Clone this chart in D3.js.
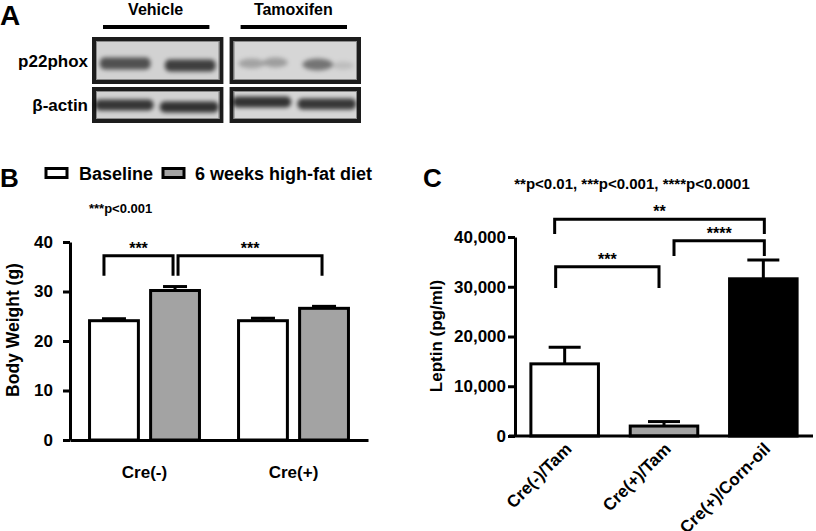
<!DOCTYPE html>
<html><head><meta charset="utf-8">
<script src="https://cdn.jsdelivr.net/npm/d3@7"></script>
<style>
body{margin:0;background:#fff}
svg{display:block}
text{font-family:"Liberation Sans",Arial,Helvetica,sans-serif;font-weight:bold;fill:#000}
</style>
</head><body><svg id="c" width="816" height="531"></svg>
<script>
// ---------- Panel A: western blot ----------
const blotGroups = ["Vehicle", "Tamoxifen"];
const blotRows = ["p22phox", "β-actin"];
const blotLanes = ["Vehicle-1", "Vehicle-2", "Tamoxifen-1", "Tamoxifen-2"];
const p22Bands = [0.62, 0.70, 0.24, 0.46];
const actinBands = [0.74, 0.76, 0.76, 0.74];

// ---------- Panel B: body weight ----------
const bwGroups = ["Cre(-)", "Cre(+)"];
const bwSeries = ["Baseline", "6 weeks high-fat diet"];
const bwBaseline = [24.1, 24.1];
const bwBaselineErr = [0.4, 0.5];
const bwHFD = [30.2, 26.6];
const bwHFDErr = [0.8, 0.4];
const bwTicks = [0, 10, 20, 30, 40];
const bwNote = "***p<0.001";

// ---------- Panel C: leptin ----------
const lepGroups = ["Cre(-)/Tam", "Cre(+)/Tam", "Cre(+)/Corn-oil"];
const lepMean = [14500, 2000, 31600];
const lepErr = [3350, 900, 3800];
const lepTicks = [0, 10000, 20000, 30000, 40000];
const lepNote = "**p<0.01, ***p<0.001, ****p<0.0001";

const svg = d3.select("#c");
const LW = 3;

// ================= Panel A =================
svg.append("text").attr("x", 0).attr("y", 25).attr("font-size", 28).text("A");
const defs = svg.append("defs");
defs.append("filter").attr("id", "blur").attr("x", "-20%").attr("y", "-80%").attr("width", "140%").attr("height", "260%")
  .append("feGaussianBlur").attr("stdDeviation", 2.2);

const xBlot = d3.scaleBand().domain(blotGroups).range([92, 361]).paddingInner(0.045);
const yBlotH = {"p22phox": [37, 84], "β-actin": [87, 123]};

blotGroups.forEach(g => {
  const gx = xBlot(g), gw = xBlot.bandwidth();
  svg.append("text").attr("x", gx + gw / 2 - 2).attr("y", 15).attr("text-anchor", "middle")
    .attr("font-size", 16).style("font-family", "'Liberation Sans Narrow','Arial Narrow',Arial,sans-serif")
    .text(g);
  svg.append("line").attr("x1", gx + 11).attr("x2", gx + gw - 14).attr("y1", 27).attr("y2", 27)
    .attr("stroke", "#000").attr("stroke-width", 4);
  blotRows.forEach(r => {
    const [y0, y1] = yBlotH[r];
    svg.append("rect").attr("x", gx + 2).attr("y", y0 + 2).attr("width", gw - 4).attr("height", y1 - y0 - 4)
      .attr("fill", g === "Vehicle" ? "#d2d2d2" : "#d6d6d6").attr("stroke", "#1c1c1c").attr("stroke-width", 4);
    svg.append("rect").attr("x", gx + 4.5).attr("y", y0 + 4.5).attr("width", gw - 9).attr("height", y1 - y0 - 9)
      .attr("fill", "none").attr("stroke", "#8a8a8a").attr("stroke-width", 1);
  });
});
blotRows.forEach(r => {
  const [y0, y1] = yBlotH[r];
  svg.append("text").attr("x", 88).attr("y", (y0 + y1) / 2 + 6).attr("text-anchor", "end")
    .attr("font-size", 17).text(r);
});

const laneInner = d3.scaleBand().domain([0, 1]).range([0, xBlot.bandwidth()]).paddingInner(0.22).paddingOuter(0.12);
const bandG = svg.append("g").attr("filter", "url(#blur)");
blotLanes.forEach((lane, i) => {
  const g = blotGroups[Math.floor(i / 2)];
  const li = i % 2;
  const lx = xBlot(g) + laneInner(li);
  const lw = laneInner.bandwidth();
  const [p0, p1] = yBlotH["p22phox"];
  const pc = (p0 + p1) / 2 + 3 + li * 2;
  if (g === "Tamoxifen" && li === 0) {
    bandG.append("ellipse").attr("cx", lx + lw * 0.28).attr("cy", pc).attr("rx", lw * 0.26).attr("ry", 5)
      .attr("fill", "#000").attr("opacity", p22Bands[i]);
    bandG.append("ellipse").attr("cx", lx + lw * 0.75).attr("cy", pc - 1).attr("rx", lw * 0.24).attr("ry", 5)
      .attr("fill", "#000").attr("opacity", p22Bands[i] * 1.1);
  } else if (g === "Tamoxifen") {
    bandG.append("ellipse").attr("cx", lx + lw * 0.3).attr("cy", pc - 1).attr("rx", lw * 0.3).attr("ry", 6)
      .attr("fill", "#000").attr("opacity", p22Bands[i]);
    bandG.append("ellipse").attr("cx", lx + lw * 0.8).attr("cy", pc).attr("rx", lw * 0.22).attr("ry", 4)
      .attr("fill", "#000").attr("opacity", p22Bands[i] * 0.25);
  } else {
    bandG.append("rect").attr("x", lx).attr("y", pc - 6).attr("width", lw).attr("height", 12).attr("rx", 5)
      .attr("fill", "#000").attr("opacity", p22Bands[i]);
  }
  const [a0, a1] = yBlotH["β-actin"];
  const ac = (a0 + a1) / 2 + (g === "Vehicle" ? 0 : -3) + li * 2;
  bandG.append("rect").attr("x", lx - 5).attr("y", ac - 5.5).attr("width", lw + 8).attr("height", 11).attr("rx", 5)
    .attr("fill", "#000").attr("opacity", actinBands[i]);
});

// ================= Panel B =================
svg.append("text").attr("x", 0).attr("y", 187).attr("font-size", 26).text("B");
const yB = d3.scaleLinear().domain([0, 40]).range([440, 242]);
const xB = d3.scaleBand().domain(bwGroups).range([70, 368]);
const xBi = d3.scaleBand().domain(bwSeries).range([0, xB.bandwidth()]).paddingInner(0.2).paddingOuter(0.32);
const fillB = d3.scaleOrdinal().domain(bwSeries).range(["#ffffff", "#a3a3a3"]);
const bwData = [];
bwGroups.forEach((g, i) => {
  bwData.push({g, s: bwSeries[0], v: bwBaseline[i], e: bwBaselineErr[i]});
  bwData.push({g, s: bwSeries[1], v: bwHFD[i], e: bwHFDErr[i]});
});

const legB = svg.append("g");
const legX = [46, 163], legTX = [79, 195];
bwSeries.forEach((s, i) => {
  legB.append("rect").attr("x", legX[i]).attr("y", 168.5).attr("width", 21).attr("height", 9)
    .attr("fill", fillB(s)).attr("stroke", "#000").attr("stroke-width", LW);
  legB.append("text").attr("x", legTX[i]).attr("y", 180).attr("font-size", 18).text(s);
});
svg.append("text").attr("x", 89).attr("y", 213).attr("font-size", 13).text(bwNote);

const gB = svg.append("g");
bwData.forEach(d => {
  const x = xB(d.g) + xBi(d.s), w = xBi.bandwidth(), cx = x + w / 2;
  gB.append("line").attr("x1", cx).attr("x2", cx).attr("y1", yB(d.v)).attr("y2", yB(d.v + d.e))
    .attr("stroke", "#000").attr("stroke-width", LW);
  gB.append("line").attr("x1", cx - 12).attr("x2", cx + 12).attr("y1", yB(d.v + d.e)).attr("y2", yB(d.v + d.e))
    .attr("stroke", "#000").attr("stroke-width", LW);
  gB.append("rect").attr("x", x).attr("y", yB(d.v)).attr("width", w).attr("height", yB(0) - yB(d.v))
    .attr("fill", fillB(d.s)).attr("stroke", "#000").attr("stroke-width", LW);
});
svg.append("g").attr("transform", "translate(70,0)")
  .call(d3.axisLeft(yB).tickValues(bwTicks).tickSize(7).tickSizeOuter(0).tickPadding(10));
svg.append("g").attr("transform", "translate(0,440)")
  .call(d3.axisBottom(xB).tickSize(0).tickPadding(26));
svg.selectAll(".domain, .tick line").attr("stroke", "#000").attr("stroke-width", LW);
svg.selectAll(".tick text").attr("font-size", 17).attr("fill", "#000")
  .style("font-family", "'Liberation Sans',Arial,sans-serif").style("font-weight", "bold");
svg.append("text").attr("transform", "translate(19,330) rotate(-90)").attr("text-anchor", "middle")
  .attr("font-size", 17.5).text("Body Weight (g)");

const bwBrackets = [
  {a: ["Cre(-)", bwSeries[0]], b: ["Cre(-)", bwSeries[1]], oa: -10, ob: -2, top: 37.2, leg: 33.2, label: "***"},
  {a: ["Cre(-)", bwSeries[1]], b: ["Cre(+)", bwSeries[1]], oa: 3, ob: -2, top: 37.2, leg: 33.2, label: "***"}
];
function bracket(ax, bx, yTop, yLeg, label, labelDy) {
  svg.append("path").attr("d", `M${ax},${yLeg}V${yTop}H${bx}V${yLeg}`)
    .attr("fill", "none").attr("stroke", "#000").attr("stroke-width", LW);
  svg.append("text").attr("x", (ax + bx) / 2).attr("y", yTop - labelDy).attr("text-anchor", "middle")
    .attr("font-size", 16).text(label);
}
bwBrackets.forEach(b => {
  const ax = xB(b.a[0]) + xBi(b.a[1]) + xBi.bandwidth() / 2 + b.oa;
  const bx = xB(b.b[0]) + xBi(b.b[1]) + xBi.bandwidth() / 2 + b.ob;
  bracket(ax, bx, yB(b.top), yB(b.leg), b.label, 2);
});

// ================= Panel C =================
svg.append("text").attr("x", 423).attr("y", 187).attr("font-size", 26).text("C");
svg.append("text").attr("x", 632).attr("y", 189).attr("text-anchor", "middle").attr("font-size", 15).text(lepNote);
const yC = d3.scaleLinear().domain([0, 40000]).range([436, 237]);
const xC = d3.scaleBand().domain(lepGroups).range([515, 813]).paddingInner(0.32).paddingOuter(0.16);
const fillC = d3.scaleOrdinal().domain(lepGroups).range(["#ffffff", "#a3a3a3", "#000000"]);
const gC = svg.append("g");
lepGroups.forEach((g, i) => {
  const x = xC(g), w = xC.bandwidth(), cx = x + w / 2, v = lepMean[i], e = lepErr[i];
  gC.append("line").attr("x1", cx).attr("x2", cx).attr("y1", yC(v)).attr("y2", yC(v + e))
    .attr("stroke", "#000").attr("stroke-width", LW);
  gC.append("line").attr("x1", cx - 16).attr("x2", cx + 16).attr("y1", yC(v + e)).attr("y2", yC(v + e))
    .attr("stroke", "#000").attr("stroke-width", LW);
  gC.append("rect").attr("x", x).attr("y", yC(v)).attr("width", w).attr("height", yC(0) - yC(v))
    .attr("fill", fillC(g)).attr("stroke", "#000").attr("stroke-width", LW);
});
const axC = svg.append("g").attr("transform", "translate(515,0)")
  .call(d3.axisLeft(yC).tickValues(lepTicks).tickSize(7).tickSizeOuter(0).tickPadding(2).tickFormat(d3.format(",")));
const axCx = svg.append("g").attr("transform", "translate(0,436)")
  .call(d3.axisBottom(xC).tickSize(0).tickFormat(""));
axCx.select(".domain").attr("d", `M509,0H813`);
[axC, axCx].forEach(a => {
  a.selectAll(".domain, .tick line").attr("stroke", "#000").attr("stroke-width", LW);
  a.selectAll(".tick text").attr("font-size", 17).attr("fill", "#000")
    .style("font-family", "'Liberation Sans',Arial,sans-serif").style("font-weight", "bold");
});
lepGroups.forEach(g => {
  const cx = xC(g) + xC.bandwidth() / 2;
  svg.append("text").attr("transform", `translate(${cx + 8},450) rotate(-45)`).attr("text-anchor", "end")
    .attr("font-size", 17).text(g);
});
svg.append("text").attr("transform", "translate(442,336) rotate(-90)").attr("text-anchor", "middle")
  .attr("font-size", 17).text("Leptin (pg/ml)");

const lepBrackets = [
  {a: 0, b: 2, oa: -10, ob: 1, top: 43560, leg: 40600, label: "**"},
  {a: 1, b: 2, oa: 10, ob: 1, top: 39260, leg: 36180, label: "****"},
  {a: 0, b: 1, oa: -9, ob: -5, top: 34030, leg: 29750, label: "***"}
];
lepBrackets.forEach(b => {
  const ax = xC(lepGroups[b.a]) + xC.bandwidth() / 2 + b.oa;
  const bx = xC(lepGroups[b.b]) + xC.bandwidth() / 2 + b.ob;
  bracket(ax, bx, yC(b.top), yC(b.leg), b.label, 2);
});
</script>
</body></html>
